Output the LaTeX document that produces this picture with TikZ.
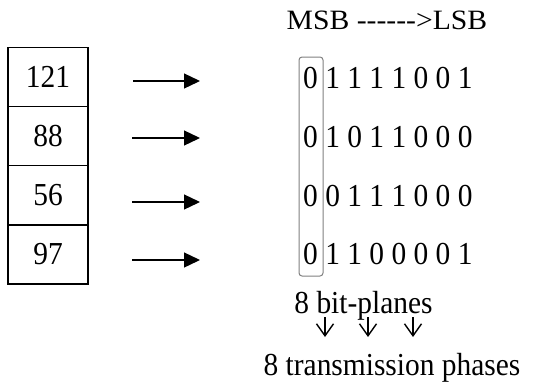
\documentclass[tikz,border=0pt]{standalone}
\usepackage{fontspec}
\setmainfont{Liberation Serif}[FakeStretch=0.92]
\newfontfamily\headfont{Liberation Serif}[FakeStretch=1.06]
\usetikzlibrary{arrows.meta}

\begin{document}
\begin{tikzpicture}[x=1pt, y=-1pt,
    every node/.style={font=\fontsize{32}{32}\selectfont, inner sep=0pt},
    valbox/.style={draw, line width=1.2pt, minimum width=80pt, minimum height=59pt},
    bits/.style={anchor=base west},
    label/.style={anchor=base},
    maparrow/.style={line width=1.3pt, -{Triangle[length=16pt, width=15pt]}},
    phasearrow/.style={line width=1.4pt, -{Straight Barb[length=12pt, width=17pt]}}]
    \useasboundingbox (0,0) rectangle (534,381);

    % Values (left column)
    \node[valbox] (v1) at (48,77) {121};
    \node[valbox] (v2) at (48,136) {88};
    \node[valbox] (v3) at (48,195) {56};
    \node[valbox] (v4) at (48,254.5) {97};

    % Binary rows
    \node[label, font=\headfont\fontsize{28}{28}\selectfont] (head) at (387,29) {MSB -{}-{}-{}-{}-{}->LSB};
    \node[bits] (b1) at (303,88) {0 1 1 1 1 0 0 1};
    \node[bits] (b2) at (303,147) {0 1 0 1 1 0 0 0};
    \node[bits] (b3) at (303,206.5) {0 0 1 1 1 0 0 0};
    \node[bits] (b4) at (303,264) {0 1 1 0 0 0 0 1};

    % MSB column frame
    \node[draw=gray, line width=1pt, rounded corners=3pt,
          minimum width=24pt, minimum height=219pt] (msb) at (311,166.5) {};

    % Mapping arrows
    \coordinate (a1s) at (133,81);  \coordinate (a1e) at (200,81);
    \coordinate (a2s) at (132,138); \coordinate (a2e) at (200,138);
    \coordinate (a3s) at (132,202); \coordinate (a3e) at (200,202);
    \coordinate (a4s) at (132,260); \coordinate (a4e) at (200,260);
    \draw[maparrow] (a1s) -- (a1e);
    \draw[maparrow] (a2s) -- (a2e);
    \draw[maparrow] (a3s) -- (a3e);
    \draw[maparrow] (a4s) -- (a4e);

    % Bit-planes to phases
    \node[label] (planes) at (363.5,313) {8 bit-planes};
    \node[label] (phases) at (392,375) {8 transmission phases};
    \coordinate (p1s) at (325,317); \coordinate (p1e) at (325,337);
    \coordinate (p2s) at (368,317); \coordinate (p2e) at (368,337);
    \coordinate (p3s) at (413,317); \coordinate (p3e) at (413,337);
    \draw[phasearrow] (p1s) -- (p1e);
    \draw[phasearrow] (p2s) -- (p2e);
    \draw[phasearrow] (p3s) -- (p3e);
\end{tikzpicture}
\end{document}
